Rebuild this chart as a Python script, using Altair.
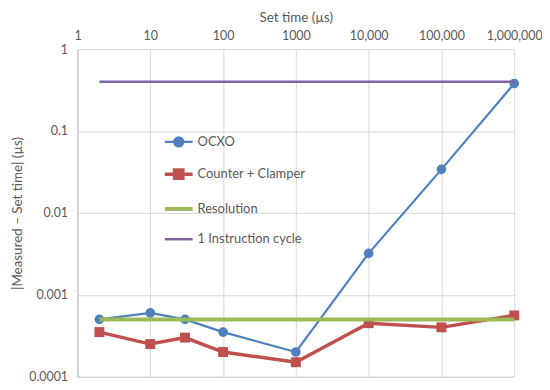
import altair as alt
import pandas as pd

set_time = [2, 10, 30, 100, 1000, 10000, 100000, 1000000]
ocxo = [0.0005, 0.0006, 0.0005, 0.00035, 0.0002, 0.0032, 0.034, 0.38]
counter = [0.00035, 0.00025, 0.0003, 0.0002, 0.00015, 0.00045, 0.0004, 0.00056]
resolution = [0.0005, 0.0005, 0.0005, 0.0005, 0.0005, 0.0005, 0.0005, 0.0005]
instruction = [0.4, 0.4, 0.4, 0.4, 0.4, 0.4, 0.4, 0.4]

series_names = ["OCXO", "Counter + Clamper", "Resolution", "1 Instruction cycle"]
series_colors = ["#4F81BD", "#C0504D", "#9BBB59", "#8064A2"]
series_widths = [2.2, 3.5, 4, 2.5]
x_ticks = [1, 10, 100, 1000, 10000, 100000, 1000000]
y_ticks = [1, 0.1, 0.01, 0.001, 0.0001]

rows = []
for name, vals in zip(series_names, [ocxo, counter, resolution, instruction]):
    for t, v in zip(set_time, vals):
        rows.append({"series": name, "t": t, "v": v})
df = pd.DataFrame(rows)

FONT = "Lato"
TXT = "#595959"

legend_shapes = [
    "M-1,0H1M0.33,0A0.33,0.33,0,1,1,-0.33,0A0.33,0.33,0,1,1,0.33,0Z",
    "M-1,0H1M-0.3,-0.3H0.3V0.3H-0.3Z",
    "M-1,0H1",
    "M-1,0H1",
]

legend = alt.Legend(
    title=None,
    orient="none",
    legendX=86,
    legendY=78,
    symbolSize=784,
    rowPadding=7,
    labelOffset=3,
    labelFont=FONT,
    labelFontSize=13,
    labelColor=TXT,
    symbolOpacity=1,
)

stroke_enc = alt.Stroke("series:N", scale=alt.Scale(domain=series_names, range=series_colors), legend=legend)
fill_enc = alt.Fill("series:N", scale=alt.Scale(domain=series_names, range=series_colors), legend=legend)
shape_enc = alt.Shape("series:N", scale=alt.Scale(domain=series_names, range=legend_shapes), legend=legend)
sw_enc = alt.StrokeWidth("series:N", scale=alt.Scale(type="ordinal", domain=series_names, range=series_widths), legend=legend)

x = alt.X(
    "t:Q",
    scale=alt.Scale(type="log", domain=[1, 1000000]),
    axis=alt.Axis(
        orient="top",
        title="Set time (µs)",
        values=x_ticks,
        labelExpr="datum.value == 1000 ? '1000' : format(datum.value, ',')",
        domain=False,
        ticks=False,
        labelPadding=7,
        titlePadding=5,
        labelOverlap=False,
        labelFlush=False,
        gridColor="#D9D9D9",
    ),
)
y = alt.Y(
    "v:Q",
    scale=alt.Scale(type="log", domain=[0.0001, 1]),
    axis=alt.Axis(
        title="|Measured – Set time| (µs)",
        values=y_ticks,
        format=".4~f",
        ticks=False,
        domainColor="#BFBFBF",
        labelPadding=10,
        titlePadding=4,
        labelOverlap=False,
        labelFlush=False,
        gridColor={"condition": {"test": "datum.value <= 0.0001", "value": "#BFBFBF"}, "value": "#D9D9D9"},
    ),
)

base = alt.Chart(df)

lines_a = base.transform_filter(
    alt.FieldOneOfPredicate(field="series", oneOf=["OCXO", "Counter + Clamper"])
).mark_line().encode(x=x, y=y, stroke=stroke_enc, strokeWidth=sw_enc, detail="series:N")
ocxo_pts = base.transform_filter(alt.datum.series == "OCXO").mark_point(
    shape="circle", filled=True, size=95, opacity=1, color=series_colors[0]
).encode(x=x, y=y)
cc_pts = base.transform_filter(alt.datum.series == "Counter + Clamper").mark_point(
    shape="square", filled=True, size=100, opacity=1, color=series_colors[1]
).encode(x=x, y=y)
lines_b = base.transform_filter(
    alt.FieldOneOfPredicate(field="series", oneOf=["Resolution", "1 Instruction cycle"])
).mark_line().encode(x=x, y=y, stroke=stroke_enc, strokeWidth=sw_enc, detail="series:N")
legend_layer = base.transform_filter("false").mark_point(filled=True, opacity=1).encode(
    x=x, y=y, fill=fill_enc, stroke=stroke_enc, shape=shape_enc, strokeWidth=sw_enc
)

chart = (
    alt.layer(lines_a, ocxo_pts, cc_pts, lines_b, legend_layer)
    .properties(
        width=440,
        height=330,
        autosize=alt.AutoSizeParams(type="none"),
        padding={"left": 70, "top": 40, "right": 28, "bottom": 10},
        background="white",
    )
    .configure_view(strokeWidth=0)
    .configure_axis(
        labelFont=FONT,
        titleFont=FONT,
        labelFontSize=12.5,
        titleFontSize=13.5,
        labelColor=TXT,
        titleColor=TXT,
        titleFontWeight="normal",
    )
)

chart.save("out.html", embed_options={"renderer": "svg", "actions": False})
